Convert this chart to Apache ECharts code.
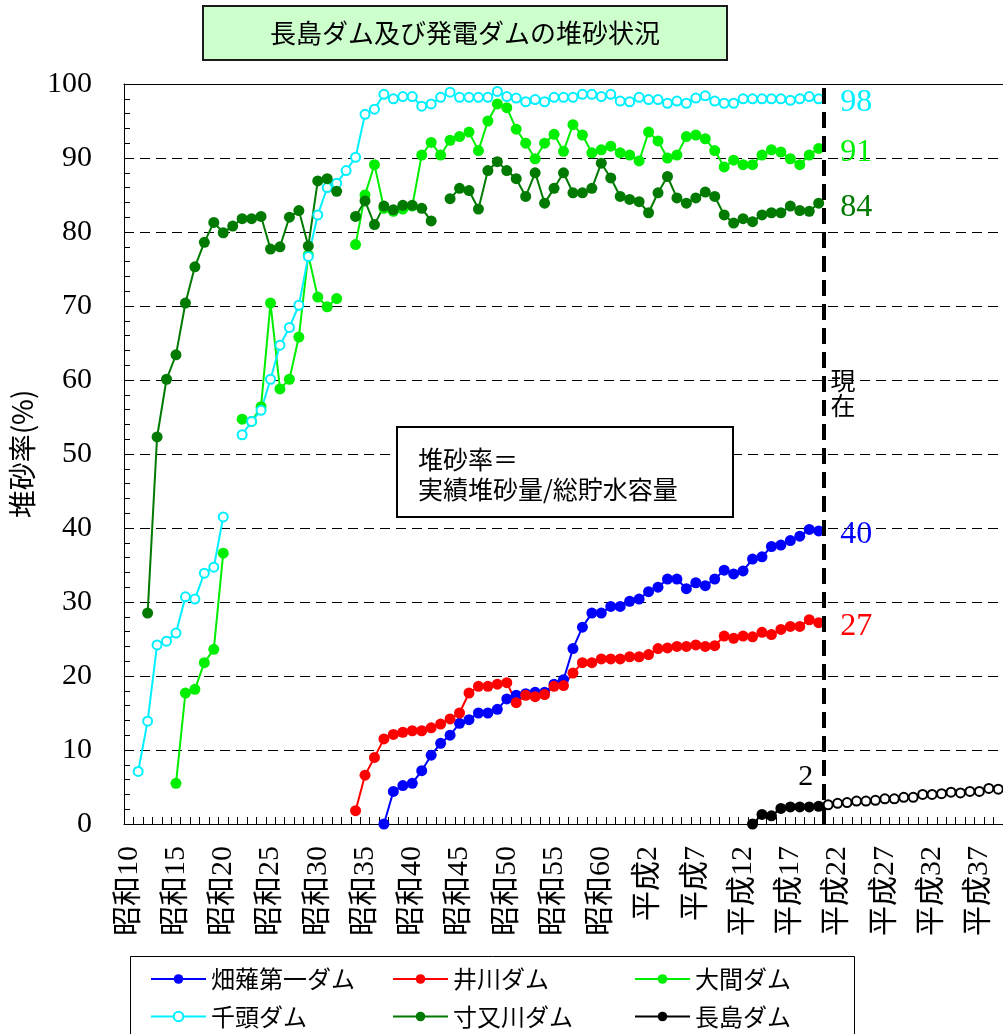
<!DOCTYPE html>
<html>
<head>
<meta charset="utf-8">
<title>長島ダム及び発電ダムの堆砂状況</title>
<script src="https://cdn.jsdelivr.net/npm/echarts@6/dist/echarts.min.js"></script>
<style>
  html, body { margin: 0; padding: 0; background: #fff; }
  #chart { width: 1003px; height: 1034px; }
</style>
</head>
<body>
<div id="chart"></div>
<script>
// Years on the horizontal axis: 昭和10 (1935) to 平成39 (2027)
const firstYear = 1935;
const lastYear = 2027;
const years = [];
for (let y = firstYear; y <= lastYear; y++) years.push(y);
const categories = years.map(y => (y < 1989 ? '昭和' + (y - 1925) : '平成' + (y - 1988)));

// Sedimentation rate (%) per dam; null = no survey that year
const hatanagiStart = 27; // 畑薙第一ダム
const hatanagi = [0, 4.4, 5.2, 5.5, 7.2, 9.3, 10.9, 12.0, 13.6, 14.1, 15.0, 15.0, 15.5, 16.9, 17.4, 17.6,
  17.8, 17.8, 18.9, 19.5, 23.7, 26.6, 28.5, 28.5, 29.4, 29.4, 30.1, 30.4, 31.4, 32.0, 33.1, 33.1,
  31.8, 32.6, 32.2, 33.1, 34.3, 33.8, 34.2, 35.8, 36.1, 37.5, 37.7, 38.3, 38.9, 39.8, 39.6];

const ikawaStart = 24; // 井川ダム
const ikawa = [1.8, 6.6, 9.0, 11.5, 12.1, 12.4, 12.6, 12.6, 13.0, 13.5, 14.2, 15.0, 17.7, 18.6, 18.6,
  18.9, 19.1, 16.4, 17.4, 17.2, 17.5, 18.6, 18.7, 20.4, 21.8, 21.8, 22.3, 22.3, 22.3, 22.6, 22.6,
  22.9, 23.7, 23.8, 24.0, 24.0, 24.2, 24.0, 24.1, 25.4, 25.1, 25.4, 25.3, 25.9, 25.6, 26.3, 26.7,
  26.7, 27.6, 27.2];

const omaStart = 5; // 大間ダム
const oma = [5.5, 17.7, 18.2, 21.8, 23.6, 36.6, null,
  54.7, 54.4, 56.4, 70.4, 58.8, 60.1, 65.8, 76.9, 71.2, 69.9, 71.0, null,
  78.3, 85.0, 89.1, 83.2, 82.8, 83.1, 83.5, 90.4, 92.1, 90.4, 92.4, 92.9, 93.5, 91.0, 95.0, 97.3,
  96.8, 93.9, 92.0, 89.9, 92.0, 93.2, 90.9, 94.5, 93.1, 90.7, 91.1, 91.6, 90.7, 90.4, 89.6, 93.5,
  92.3, 90.0, 90.4, 92.9, 93.1, 92.6, 91.0, 88.8, 89.7, 89.1, 89.1, 90.4, 91.1, 90.8, 89.9, 89.1,
  90.4, 91.3];

const sennzuStart = 1; // 千頭ダム
const sennzu = [7.1, 13.9, 24.2, 24.7, 25.8, 30.7, 30.4, 33.9, 34.7, 41.5, null,
  52.6, 54.4, 55.9, 60.1, 64.7, 67.1, 70.1, 76.7, 82.3, 86.0, 86.6, 88.3, 90.1, 95.9, 96.6, 98.6,
  98.0, 98.3, 98.3, 97.0, 97.3, 98.2, 98.9, 98.2, 98.2, 98.2, 98.2, 99.0, 98.3, 98.1, 97.6, 97.9,
  97.6, 98.2, 98.2, 98.2, 98.6, 98.6, 98.3, 98.6, 97.7, 97.6, 98.2, 97.9, 97.9, 97.4, 97.7, 97.4,
  98.1, 98.4, 97.7, 97.4, 97.4, 98.0, 98.0, 98.0, 98.0, 98.0, 97.8, 98.0, 98.3, 98.0];

const sumatakoStart = 2; // 寸又川ダム
const sumatako = [28.5, 52.3, 60.1, 63.4, 70.4, 75.3, 78.6, 81.3, 79.9, 80.8, 81.8, 81.8, 82.1, 77.7,
  78.0, 82.0, 82.9, 78.1, 86.9, 87.2, 85.5, null,
  82.1, 84.2, 81.0, 83.5, 83.0, 83.6, 83.6, 83.2, 81.5, null,
  84.5, 85.9, 85.6, 83.1, 88.3, 89.5, 88.3, 87.2, 84.8, 88.0, 83.9, 85.9, 88.0, 85.3, 85.3, 85.9,
  89.3, 87.3, 84.8, 84.4, 84.1, 82.6, 85.3, 87.5, 84.6, 83.9, 84.6, 85.4, 84.8, 82.3, 81.2, 81.8,
  81.4, 82.3, 82.6, 82.6, 83.5, 82.9, 82.8, 83.9];

const nagashimaStart = 66; // 長島ダム (実績)
const nagashimaActual = [0, 1.3, 1.1, 2.1, 2.3, 2.3, 2.3, 2.4];
// 長島ダム (予測), drawn with open circles
const nagashimaForecast = [2.6, 2.8, 2.9, 3.1, 3.1, 3.2, 3.4, 3.4, 3.6, 3.6, 4.0, 4.0, 4.1, 4.3,
  4.2, 4.4, 4.4, 4.8, 4.7];

// Boundary between 平成20 and 平成21 (the "現在" line), in band units
const presentBoundary = 74;

const yTicks = { min: 0, max: 100, interval: 10 };

const SERIF = '"Liberation Serif", "Noto Sans CJK JP", serif';
const CJK = '"Noto Sans CJK JP", sans-serif';

function place(start, values) {
  const arr = new Array(years.length).fill(null);
  values.forEach((v, i) => { arr[start + i] = v; });
  return arr;
}

function lastIndex(arr) {
  for (let i = arr.length - 1; i >= 0; i--) if (arr[i] != null) return i;
  return -1;
}

function endLabelled(arr, color, labelOpts) {
  const out = arr.slice();
  const li = lastIndex(out);
  out[li] = {
    value: out[li],
    label: Object.assign({
      show: true,
      position: 'right',
      distance: 16,
      offset: [0, 4],
      color: color,
      fontSize: 32,
      fontFamily: SERIF,
      formatter: p => String(Math.round(p.value))
    }, labelOpts || {})
  };
  return out;
}

function lineSeries(name, color, data, extra) {
  return Object.assign({
    name: name,
    type: 'line',
    data: data,
    symbol: 'circle',
    symbolSize: 11,
    showAllSymbol: true,
    connectNulls: false,
    color: color,
    lineStyle: { color: color, width: 2 },
    itemStyle: { color: color },
    emphasis: { disabled: true },
    z: 3
  }, extra || {});
}

const C_BLUE = '#0000ff';
const C_RED = '#ff0000';
const C_GREEN = '#00ee00';
const C_CYAN = '#00f0ff';
const C_DKGREEN = '#007a00';
const C_BLACK = '#000000';

// Nagashima: filled marks for surveyed years, open marks for the forecast
const nagashimaRaw = place(nagashimaStart, nagashimaActual.concat(nagashimaForecast));
const nagashimaData = nagashimaRaw.map((v, i) => {
  if (v == null) return null;
  if (i >= nagashimaStart + nagashimaActual.length) return { value: v, symbol: 'emptyCircle', symbolSize: 9 };
  if (i === nagashimaStart + nagashimaActual.length - 1) {
    return {
      value: v,
      label: {
        show: true, position: 'top', distance: 5, offset: [-13, -4],
        color: C_BLACK, fontSize: 30, fontFamily: SERIF,
        formatter: p => String(Math.round(p.value))
      }
    };
  }
  return v;
});

const chart = echarts.init(document.getElementById('chart'), null, { renderer: 'canvas' });

// One legend entry per slot so the two rows line up in three columns
const legendText = { fontSize: 24, fontFamily: CJK, color: '#000' };
const legendCols = [145, 387, 629];
const legendRows = [962, 999.5];
const legendNames = [
  ['畑薙第一ダム', '井川ダム', '大間ダム'],
  ['千頭ダム', '寸又川ダム', '長島ダム']
];
const legends = [];
legendNames.forEach((row, r) => row.forEach((name, c) => {
  legends.push({
    data: [name], left: legendCols[c], top: legendRows[r], orient: 'horizontal',
    itemWidth: 55, itemHeight: 12, textStyle: legendText, selectedMode: false
  });
}));

chart.setOption({
  animation: false,
  backgroundColor: '#fff',
  grid: { left: 124, top: 84, width: 879, height: 740, containLabel: false },
  xAxis: [
    {
      type: 'category',
      data: categories,
      boundaryGap: true,
      axisLine: { lineStyle: { color: '#000', width: 1 } },
      axisTick: { show: true, inside: true, length: 7, interval: 0, lineStyle: { color: '#000' } },
      axisLabel: { interval: 4, rotate: 90, margin: 22, fontSize: 30, fontFamily: SERIF, color: '#000' },
      splitLine: { show: false }
    },
    {
      // band-unit scale over the same grid, used for the present-day line and the top frame
      type: 'value',
      position: 'top',
      min: 0,
      max: years.length,
      axisLine: { show: true, onZero: false, lineStyle: { color: '#000', width: 1 } },
      axisTick: { show: false },
      axisLabel: { show: false },
      splitLine: { show: false }
    }
  ],
  yAxis: {
    type: 'value',
    min: yTicks.min,
    max: yTicks.max,
    interval: yTicks.interval,
    name: '堆砂率(%)',
    nameLocation: 'middle',
    nameGap: 84,
    nameRotate: 90,
    nameTextStyle: { fontSize: 28, fontFamily: CJK, color: '#000' },
    axisLine: { show: true, lineStyle: { color: '#000', width: 1 } },
    axisTick: { show: true, inside: true, length: 6, lineStyle: { color: '#000' } },
    minorTick: { show: true, splitNumber: 5, length: 6, lineStyle: { color: '#000' } },
    axisLabel: { margin: 32, fontSize: 30, fontFamily: SERIF, color: '#000' },
    splitLine: { show: true, lineStyle: { color: '#000', width: 1, type: [10, 6] } }
  },
  legend: legends,
  series: [
    lineSeries('畑薙第一ダム', C_BLUE, endLabelled(place(hatanagiStart, hatanagi), C_BLUE)),
    lineSeries('井川ダム', C_RED, endLabelled(place(ikawaStart, ikawa), C_RED)),
    lineSeries('大間ダム', C_GREEN, endLabelled(place(omaStart, oma), C_GREEN)),
    lineSeries('千頭ダム', C_CYAN, endLabelled(place(sennzuStart, sennzu), C_CYAN), { symbol: 'emptyCircle', symbolSize: 9 }),
    lineSeries('寸又川ダム', C_DKGREEN, endLabelled(place(sumatakoStart, sumatako), C_DKGREEN)),
    lineSeries('長島ダム', C_BLACK, nagashimaData),
    {
      name: '現在',
      type: 'line',
      xAxisIndex: 1,
      yAxisIndex: 0,
      data: [],
      silent: true,
      markLine: {
        silent: true,
        symbol: ['none', 'none'],
        label: { show: false },
        lineStyle: { color: '#000', width: 4, type: [16, 8] },
        emphasis: { disabled: true },
        data: [{ xAxis: presentBoundary }]
      },
      z: 4
    }
  ],
  graphic: [
    {
      type: 'rect', z: 10,
      shape: { x: 203, y: 6, width: 524, height: 54 },
      style: { fill: '#ccffcc', stroke: '#1a1a1a', lineWidth: 2 }
    },
    {
      type: 'text', z: 11,
      style: { text: '長島ダム及び発電ダムの堆砂状況', x: 465, y: 33, align: 'center', verticalAlign: 'middle', fontSize: 26, fontFamily: CJK, fill: '#000' }
    },
    {
      type: 'rect', z: 10,
      shape: { x: 397, y: 427, width: 336, height: 90 },
      style: { fill: '#fff', stroke: '#000', lineWidth: 2 }
    },
    {
      type: 'text', z: 11,
      style: { text: '堆砂率＝', x: 418, y: 459, align: 'left', verticalAlign: 'middle', fontSize: 25, fontFamily: CJK, fill: '#000' }
    },
    {
      type: 'text', z: 11,
      style: { text: '実績堆砂量/総貯水容量', x: 418, y: 489, align: 'left', verticalAlign: 'middle', fontSize: 25, fontFamily: CJK, fill: '#000' }
    },
    {
      type: 'text', z: 11,
      style: { text: '現\n在', x: 843, y: 368, align: 'center', verticalAlign: 'top', fontSize: 25, lineHeight: 25, fontFamily: CJK, fill: '#000' }
    },
    {
      type: 'rect', z: 1,
      shape: { x: 130.5, y: 956.5, width: 724, height: 100 },
      style: { fill: '#fff', stroke: '#000', lineWidth: 1 }
    }
  ]
});
</script>
</body>
</html>
